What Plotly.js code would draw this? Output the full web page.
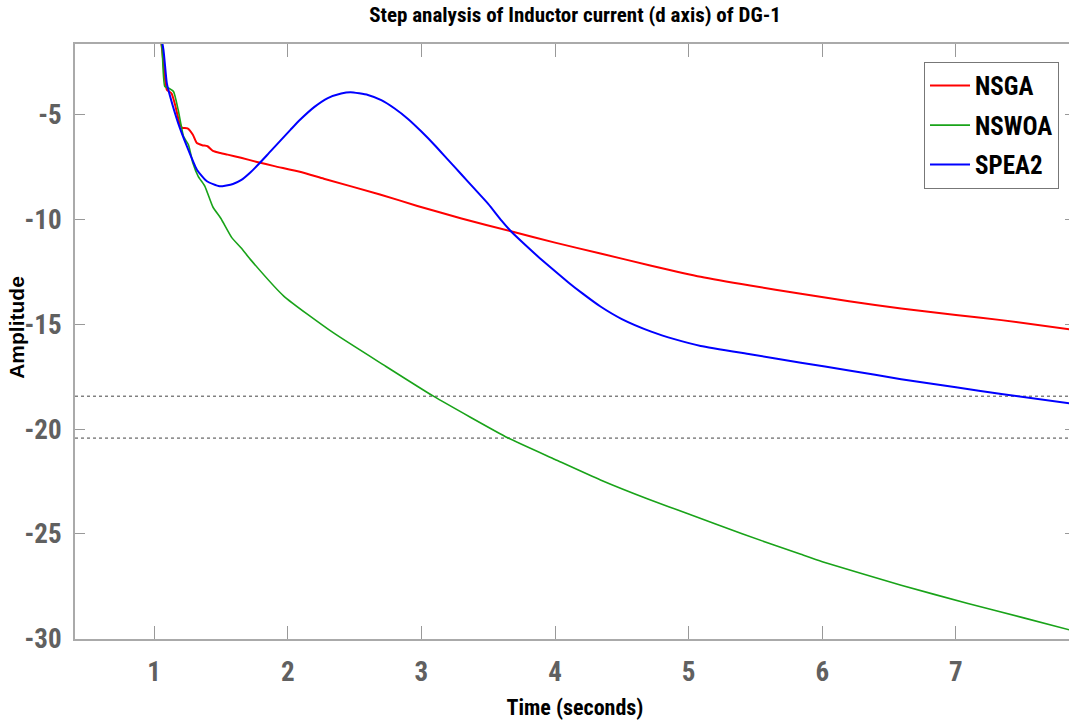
<!DOCTYPE html>
<html>
<head>
<meta charset="utf-8">
<script src="https://cdn.plot.ly/plotly-3.0.1.min.js"></script>
<style>
html,body{margin:0;padding:0;overflow:hidden;background:#fff;}
#chart{width:1076px;height:724px;}
</style>
</head>
<body>
<div id="chart"></div>
<script>
// ---- Data ----
const seriesNames = ["NSGA", "NSWOA", "SPEA2"];

const tNSGA = [1.03,1.06,1.08,1.095,1.13,1.16,1.19,1.21,1.25,1.29,1.32,1.36,1.40,1.44,1.48,1.55,1.65,1.77,1.9,2.09,2.27,2.69,2.97,3.3,3.67,4.0,4.34,4.72,5.09,5.46,5.84,6.2,6.59,7.0,7.34,7.89];
const iNSGA = [-0.3,-1.9,-3.2,-3.8,-3.97,-4.6,-5.4,-5.62,-5.65,-5.95,-6.35,-6.45,-6.5,-6.72,-6.8,-6.9,-7.05,-7.25,-7.45,-7.72,-8.05,-8.8,-9.35,-9.95,-10.56,-11.1,-11.62,-12.2,-12.73,-13.15,-13.54,-13.9,-14.25,-14.55,-14.8,-15.27];

const tNSWOA = [1.03,1.06,1.08,1.11,1.145,1.18,1.22,1.257,1.29,1.33,1.38,1.44,1.5,1.58,1.65,1.72,1.97,2.34,2.72,3.09,3.65,4.0,4.34,4.7,5.0,5.4,5.84,6.0,6.59,7.09,7.5,7.89];
const iNSWOA = [-0.3,-1.9,-3.65,-3.73,-3.89,-4.76,-6.03,-6.43,-7.3,-7.94,-8.41,-9.4,-9.95,-10.85,-11.35,-11.9,-13.65,-15.4,-16.95,-18.43,-20.43,-21.45,-22.43,-23.35,-24.05,-25.0,-25.98,-26.33,-27.45,-28.33,-29.0,-29.65];

const tSPEA2 = [1.03,1.07,1.095,1.12,1.18,1.245,1.32,1.395,1.49,1.59,1.65,1.72,1.79,1.86,1.94,2.02,2.09,2.2,2.3,2.4,2.47,2.6,2.7,2.8,2.9,3.0,3.1,3.2,3.3,3.4,3.5,3.6,3.67,3.75,3.87,3.97,4.1,4.2,4.34,4.5,4.72,4.9,5.09,5.46,5.84,6.2,6.59,7.0,7.34,7.89];
const iSPEA2 = [-0.5,-1.9,-3.49,-4.13,-5.4,-6.5,-7.62,-8.17,-8.41,-8.3,-8.12,-7.75,-7.3,-6.82,-6.27,-5.72,-5.25,-4.62,-4.2,-3.98,-3.92,-4.05,-4.3,-4.7,-5.2,-5.8,-6.45,-7.15,-7.85,-8.55,-9.25,-10.05,-10.56,-11.05,-11.75,-12.3,-13.0,-13.5,-14.15,-14.75,-15.35,-15.72,-16.03,-16.43,-16.83,-17.2,-17.62,-18.0,-18.33,-18.8];

// dotted reference levels
const refLevels = [-18.43, -20.43];

const xTicks = [1,2,3,4,5,6,7];
const yTicks = [-5,-10,-15,-20,-25,-30];

// ---- Styling ----
const NARROW = '"Roboto Condensed", "Open Sans Condensed", "Liberation Sans", sans-serif';
const colors = ["#ff0000", "#19a319", "#0000ff"];
const widths = [2, 1.6, 2];
const tSets = [tNSGA, tNSWOA, tSPEA2];
const iSets = [iNSGA, iNSWOA, iSPEA2];

const traces = seriesNames.map((n, k) => ({
  x: tSets[k], y: iSets[k], name: n, type: 'scatter', mode: 'lines',
  line: {color: colors[k], width: widths[k], shape: 'spline', smoothing: 0.5},
  legendgroup: 'g' + k
}));

const shapes = refLevels.map(v => ({
  type: 'line', xref: 'paper', yref: 'y', x0: 0, x1: 1, y0: v, y1: v,
  line: {color: '#444', width: 1, dash: 'dot'}, layer: 'below'
}));

const layout = {
  width: 1076, height: 724,
  margin: {l: 75, r: 1, t: 44, b: 85},
  paper_bgcolor: '#fff', plot_bgcolor: '#fff',
  showlegend: true,
  title: {text: '<b>Step analysis of Inductor current (d axis) of DG-1</b>',
          font: {family: NARROW, size: 21, color: '#000'},
          x: 0.5, xref: 'paper', y: 0.98, yref: 'container', yanchor: 'middle'},
  xaxis: {
    range: [0.408, 7.891], tickvals: xTicks, ticktext: xTicks.map(String),
    ticks: 'inside', ticklen: 13, tickwidth: 1, tickcolor: '#999',
    showline: true, linecolor: '#aaa', linewidth: 2, mirror: 'ticks',
    showgrid: false, zeroline: false,
    tickfont: {family: NARROW, size: 27, color: '#606060', weight: 'bold'},
    ticklabelstandoff: 8,
    title: {text: '<b>Time (seconds)</b>', font: {family: NARROW, size: 22, color: '#000'}, standoff: 12}
  },
  yaxis: {
    range: [-30.02, -1.62], tickvals: yTicks, ticktext: yTicks.map(String),
    ticks: 'inside', ticklen: 10, tickwidth: 1, tickcolor: '#999',
    showline: true, linecolor: '#aaa', linewidth: 2, mirror: 'ticks',
    showgrid: false, zeroline: false,
    tickfont: {family: NARROW, size: 27, color: '#606060', weight: 'bold'},
    ticklabelstandoff: 6
  },
  annotations: [{
    text: '<b>Amplitude</b>', xref: 'paper', yref: 'paper',
    x: -0.058, y: 0.523, xanchor: 'center', yanchor: 'middle',
    textangle: -90, showarrow: false,
    font: {family: '"Liberation Sans", Arial, sans-serif', size: 21, color: '#000'}
  }],
  legend: {
    x: 0.984, xanchor: 'right', y: 0.97, yanchor: 'top',
    bgcolor: '#fff', bordercolor: '#777', borderwidth: 1,
    font: {family: NARROW, size: 25, color: '#000', weight: 'bold'},
    traceorder: 'grouped', tracegroupgap: 4, itemwidth: 40
  },
  shapes: shapes
};

Plotly.newPlot('chart', traces, layout, {displayModeBar: false, staticPlot: true});
</script>
</body>
</html>
